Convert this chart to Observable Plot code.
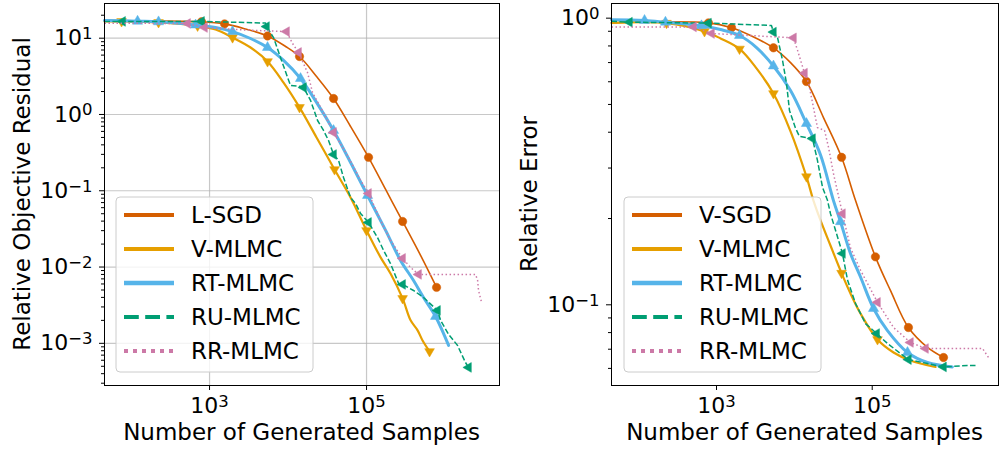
<!DOCTYPE html>
<html>
<head>
<meta charset="utf-8">
<script src="https://cdn.jsdelivr.net/npm/d3@7"></script>
<script src="https://cdn.jsdelivr.net/npm/@observablehq/plot@0.6"></script>
<style>
  body { margin: 0; background: #fff; }
  #wrap { display: flex; width: 999px; height: 450px; overflow: hidden; }
  #wrap svg { font-family: "DejaVu Sans", sans-serif; display: block; }
</style>
</head>
<body>
<div id="wrap"></div>
<script>
// ---------------- data: left panel (Relative Objective Residual) ----------------
const L_LSGD_x = [45.9, 177, 791, 1553, 2877, 5479, 9296, 14000, 23070, 37990, 62560, 106000, 175000, 288000, 488000, 780000];
const L_LSGD_y = [17.1, 16.8, 16.4, 15.4, 13.2, 10.7, 7.79, 5.75, 3.15, 1.62, 0.696, 0.274, 0.104, 0.0396, 0.0142, 0.00541];
const L_LSGD_m = [2, 3, 5, 7, 9, 11, 13, 15];

const L_VMLMC_x = [45.9, 75.7, 224, 704, 1192, 1963, 3327, 5479, 8764, 14000, 23070, 39110, 62560, 100000, 151000, 202000, 288000, 364000, 447000, 517000, 635000];
const L_VMLMC_y = [16.6, 16.6, 16.1, 14.5, 13.0, 10.2, 7.55, 4.95, 2.62, 1.24, 0.500, 0.190, 0.0817, 0.0302, 0.0134, 0.00824, 0.00388, 0.00200, 0.00148, 0.00109, 0.000783];
const L_VMLMC_m = [1, 2, 3, 5, 7, 9, 11, 13, 16, 20];

const L_RT_x = [45.9, 121, 224, 664, 1192, 1963, 3327, 5479, 8764, 14420, 23070, 37990, 62560, 103000, 175000, 271000, 397000, 532000, 757000, 1110000];
const L_RT_y = [17.1, 16.7, 16.4, 14.9, 13.8, 12.2, 9.91, 7.55, 5.11, 2.96, 1.44, 0.617, 0.235, 0.0867, 0.0302, 0.0122, 0.00667, 0.00399, 0.00225, 0.00094];
const L_RT_m = [1, 2, 3, 5, 7, 9, 11, 13, 18];

const L_RU_x = [45.9, 78.0, 791, 5166, 5321, 6535, 8017, 9863, 10770, 14420, 15740, 19350, 23770, 28320, 32810, 37990, 43990, 50930, 62560, 72430, 83860, 106000, 138000, 165000, 202000, 256000, 288000, 397000, 532000, 802000, 877000, 1110000, 1440000, 1820000, 1990000];
const L_RU_y = [16.6, 16.6, 16.6, 15.8, 14.2, 10.2, 5.59, 3.05, 2.40, 2.33, 2.26, 1.53, 0.834, 0.617, 0.456, 0.299, 0.250, 0.149, 0.0817, 0.0682, 0.0504, 0.0384, 0.0244, 0.0165, 0.0111, 0.00609, 0.00591, 0.00493, 0.00399, 0.00270, 0.00200, 0.00131, 0.00094, 0.000562, 0.000483];
const L_RU_m = [1, 2, 4, 10, 15, 21, 26, 29, 34];

const L_RR_x = [45.9, 525, 863, 2877, 9570, 11410, 13610, 17700, 20510, 25950, 31850, 37990, 57280, 83860, 106000, 151000, 202000, 288000, 364000, 460000, 2450000, 2600000, 2670000, 2920000];
const L_RR_y = [15.7, 15.6, 13.8, 12.8, 12.2, 8.53, 6.50, 3.55, 1.94, 1.24, 0.834, 0.581, 0.290, 0.137, 0.0922, 0.0408, 0.0223, 0.0130, 0.00988, 0.00800, 0.00800, 0.00667, 0.00493, 0.00343];
const L_RR_m = [1, 2, 4, 6, 11, 14, 17, 19];

// ---------------- data: right panel (Relative Error) ----------------
const R_VSGD_x = [44.8, 789, 1560, 2735, 5390, 8930, 14300, 23660, 40400, 61100, 110000, 172000, 292000, 513000, 824000];
const R_VSGD_y = [0.963, 0.963, 0.926, 0.870, 0.788, 0.700, 0.601, 0.450, 0.327, 0.231, 0.147, 0.112, 0.0833, 0.0710, 0.0655];
const R_VSGD_m = [1, 2, 4, 6, 8, 10, 12, 14];

const R_VMLMC_x = [44.8, 228, 701, 1126, 1975, 3266, 5390, 8930, 14300, 17600, 21700, 29100, 40400, 52600, 70800, 117000, 188000, 310000, 650000];
const R_VMLMC_y = [0.962, 0.961, 0.899, 0.850, 0.781, 0.668, 0.546, 0.403, 0.280, 0.231, 0.197, 0.161, 0.129, 0.1095, 0.0932, 0.0757, 0.0682, 0.0639, 0.0607];
const R_VMLMC_m = [1, 2, 4, 6, 8, 12, 15];

const R_RT_x = [44.8, 119, 221, 641, 1126, 1975, 3266, 5390, 8930, 14300, 21700, 31800, 39200, 52600, 70800, 104000, 157000, 284000, 513000, 1070000];
const R_RT_y = [0.987, 0.982, 0.968, 0.941, 0.913, 0.870, 0.790, 0.681, 0.559, 0.429, 0.333, 0.231, 0.195, 0.151, 0.125, 0.0971, 0.0813, 0.0682, 0.0629, 0.0607];
const R_RT_m = [1, 2, 3, 5, 7, 9, 12, 15, 17];

const R_RU_x = [44.8, 76.2, 789, 5080, 5390, 6080, 7050, 7930, 8660, 10300, 11600, 17100, 19800, 23000, 26700, 29100, 33800, 41500, 48200, 61100, 82100, 114000, 157000, 231000, 292000, 513000, 824000, 1670000, 2250000];
const R_RU_y = [0.976, 0.968, 0.961, 0.943, 0.894, 0.856, 0.712, 0.592, 0.476, 0.415, 0.387, 0.380, 0.319, 0.257, 0.231, 0.208, 0.182, 0.151, 0.122, 0.101, 0.0860, 0.0794, 0.0733, 0.0676, 0.0644, 0.0624, 0.0607, 0.0614, 0.0614];
const R_RU_m = [1, 2, 4, 11, 17, 21, 24, 26];

const R_RR_x = [44.8, 507, 863, 9750, 11000, 13500, 15200, 17600, 19800, 24400, 27500, 31800, 41500, 52600, 70800, 117000, 188000, 310000, 484000, 2610000, 3120000];
const R_RR_y = [0.932, 0.932, 0.884, 0.854, 0.772, 0.643, 0.596, 0.488, 0.415, 0.406, 0.354, 0.287, 0.208, 0.158, 0.132, 0.102, 0.0833, 0.0739, 0.0704, 0.0704, 0.0655];
const R_RR_m = [1, 2, 3, 5, 12, 15, 17, 18];

// ---------------- axes ----------------
const xTicks = [1e3, 1e5];
const leftYTicks = [1e-3, 1e-2, 1e-1, 1e0, 1e1];
const leftYMinor = [3e-4, 4e-4, 5e-4, 6e-4, 7e-4, 8e-4, 9e-4, 2e-3, 3e-3, 4e-3, 5e-3, 6e-3, 7e-3, 8e-3, 9e-3, 2e-2, 3e-2, 4e-2, 5e-2, 6e-2, 7e-2, 8e-2, 9e-2, 0.2, 0.3, 0.4, 0.5, 0.6, 0.7, 0.8, 0.9, 2, 3, 4, 5, 6, 7, 8, 9, 20];
const rightYTicks = [1e-1, 1e0];
const rightYMinor = [0.06, 0.07, 0.08, 0.09, 0.2, 0.3, 0.4, 0.5, 0.6, 0.7, 0.8, 0.9];
const leftXDomain = [45.9, 4.94e6];
const leftYDomain = [2.8e-4, 28.5];
const rightXDomain = [44.8, 4.19e6];
const rightYDomain = [0.0523, 1.125];

const leftNames = ["L-SGD", "V-MLMC", "RT-MLMC", "RU-MLMC", "RR-MLMC"];
const rightNames = ["V-SGD", "V-MLMC", "RT-MLMC", "RU-MLMC", "RR-MLMC"];

// ---------------- styling ----------------
const COLORS = ["#D55E00", "#E69F00", "#56B4E9", "#009E73", "#CC79A7"];
const sqrt3 = Math.sqrt(3);
const triUp = { draw(c, s) { const y = -Math.sqrt(s / (sqrt3 * 3)); c.moveTo(0, 2 * y); c.lineTo(-sqrt3 * y, -y); c.lineTo(sqrt3 * y, -y); c.closePath(); } };
const triDown = { draw(c, s) { const y = -Math.sqrt(s / (sqrt3 * 3)); c.moveTo(0, -2 * y); c.lineTo(-sqrt3 * y, y); c.lineTo(sqrt3 * y, y); c.closePath(); } };
const triLeft = { draw(c, s) { const y = -Math.sqrt(s / (sqrt3 * 3)); c.moveTo(2 * y, 0); c.lineTo(-y, -sqrt3 * y); c.lineTo(-y, sqrt3 * y); c.closePath(); } };
const STYLES = [
  { w: 1.6, dash: null, sym: "circle", r: 4.2, curve: "catmull-rom", lw: 4, ldash: null },
  { w: 2.2, dash: null, sym: triDown, r: 3.6, curve: "catmull-rom", lw: 4, ldash: null },
  { w: 3.0, dash: null, sym: triUp, r: 3.8, curve: "catmull-rom", lw: 4.5, ldash: null },
  { w: 1.5, dash: "5.5,2.4", sym: triLeft, r: 3.6, curve: "linear", lw: 4, ldash: "14.8,6.4" },
  { w: 1.5, dash: "1.5,2.5", sym: triLeft, r: 3.6, curve: "linear", lw: 4, ldash: "4,5" }
];

function rows(xs, ys) { return xs.map((x, i) => ({ x, y: ys[i] })); }
function pow(d) {
  const e = Math.round(Math.log10(d));
  return "10^" + (e < 0 ? "\u2212" + (-e) : String(e));
}

function panel(cfg) {
  const marks = [];
  if (cfg.grid) {
    marks.push(Plot.gridX(xTicks, { stroke: "#b0b0b0", strokeOpacity: 0.7, strokeWidth: 1.2 }));
    marks.push(Plot.gridY(cfg.yTicks, { stroke: "#b0b0b0", strokeOpacity: 0.7, strokeWidth: 1.2 }));
  }
  cfg.series.forEach((s, k) => {
    const st = STYLES[k];
    const data = rows(s.x, s.y);
    marks.push(Plot.line(data, {
      x: "x", y: "y", stroke: COLORS[k], strokeWidth: st.w, curve: st.curve,
      strokeDasharray: st.dash, strokeLinecap: st.dash ? "butt" : "round", strokeLinejoin: "round"
    }));
    const ms = new Set(s.m);
    marks.push(Plot.dot(data, {
      x: "x", y: "y", filter: (d, i) => ms.has(i), symbol: st.sym, r: st.r,
      fill: COLORS[k], stroke: COLORS[k], strokeWidth: 0.5
    }));
  });
  marks.push(Plot.axisX({ ticks: xTicks, tickSize: 5, tickPadding: 7, tickFormat: pow, label: null, fontSize: 22 }));
  marks.push(Plot.axisY({ ticks: cfg.yTicks, tickSize: 5, tickPadding: 7, tickFormat: pow, label: null, fontSize: 22 }));
  marks.push(Plot.axisY({ ticks: cfg.yMinor, tickSize: 3, tickFormat: () => "", label: null }));
  marks.push(Plot.frame({ stroke: "#000", strokeWidth: 1 }));

  const svg = Plot.plot({
    width: cfg.width, height: 450,
    marginLeft: cfg.marginLeft, marginRight: 1, marginTop: 3, marginBottom: 65,
    x: { type: "log", domain: cfg.xDomain },
    y: { type: "log", domain: cfg.yDomain },
    style: { fontFamily: "DejaVu Sans", fontSize: "22px", color: "black", background: "white" },
    marks
  });

  const root = d3.select(svg);
  // superscript exponents in tick labels
  root.selectAll("text").each(function () {
    const m = /^10\^(.+)$/.exec(this.textContent);
    if (m) {
      const t = d3.select(this);
      t.text("10");
      t.append("tspan").attr("dy", "-0.38em").attr("font-size", "0.75em").text(m[1]);
    }
  });

  const fx0 = cfg.marginLeft, fx1 = cfg.width - 1, fyMid = (3 + 385) / 2;
  // axis labels
  root.append("text").attr("x", (fx0 + fx1) / 2).attr("y", 440)
    .attr("text-anchor", "middle").attr("font-size", 23).attr("fill", "black")
    .text("Number of Generated Samples");
  root.append("text").attr("transform", `translate(${fx0 - 74},${fyMid}) rotate(-90)`)
    .attr("text-anchor", "middle").attr("font-size", 23).attr("fill", "black")
    .text(cfg.yLabel);

  // legend
  const lg = root.append("g");
  lg.append("rect").attr("x", cfg.legendX).attr("y", 197).attr("width", 197).attr("height", 175)
    .attr("rx", 4).attr("fill", "white").attr("fill-opacity", 0.8)
    .attr("stroke", "#cccccc").attr("stroke-width", 1);
  cfg.names.forEach((name, k) => {
    const st = STYLES[k];
    const yy = 215 + 34 * k;
    lg.append("line").attr("x1", cfg.legendX + 8).attr("x2", cfg.legendX + 58)
      .attr("y1", yy).attr("y2", yy).attr("stroke", COLORS[k]).attr("stroke-width", st.lw)
      .attr("stroke-dasharray", st.ldash).attr("stroke-linecap", "butt");
    lg.append("text").attr("x", cfg.legendX + 75).attr("y", yy + 8.4)
      .attr("text-anchor", "start")
      .attr("font-size", 23).attr("fill", "black").text(name);
  });
  return svg;
}

const wrap = document.getElementById("wrap");
wrap.appendChild(panel({
  width: 500, marginLeft: 104, xDomain: leftXDomain, yDomain: leftYDomain,
  yTicks: leftYTicks, yMinor: leftYMinor, grid: true,
  yLabel: "Relative Objective Residual", names: leftNames, legendX: 116,
  series: [
    { x: L_LSGD_x, y: L_LSGD_y, m: L_LSGD_m },
    { x: L_VMLMC_x, y: L_VMLMC_y, m: L_VMLMC_m },
    { x: L_RT_x, y: L_RT_y, m: L_RT_m },
    { x: L_RU_x, y: L_RU_y, m: L_RU_m },
    { x: L_RR_x, y: L_RR_y, m: L_RR_m }
  ]
}));
wrap.appendChild(panel({
  width: 499, marginLeft: 111, xDomain: rightXDomain, yDomain: rightYDomain,
  yTicks: rightYTicks, yMinor: rightYMinor, grid: false,
  yLabel: "Relative Error", names: rightNames, legendX: 124,
  series: [
    { x: R_VSGD_x, y: R_VSGD_y, m: R_VSGD_m },
    { x: R_VMLMC_x, y: R_VMLMC_y, m: R_VMLMC_m },
    { x: R_RT_x, y: R_RT_y, m: R_RT_m },
    { x: R_RU_x, y: R_RU_y, m: R_RU_m },
    { x: R_RR_x, y: R_RR_y, m: R_RR_m }
  ]
}));
</script>
</body>
</html>
